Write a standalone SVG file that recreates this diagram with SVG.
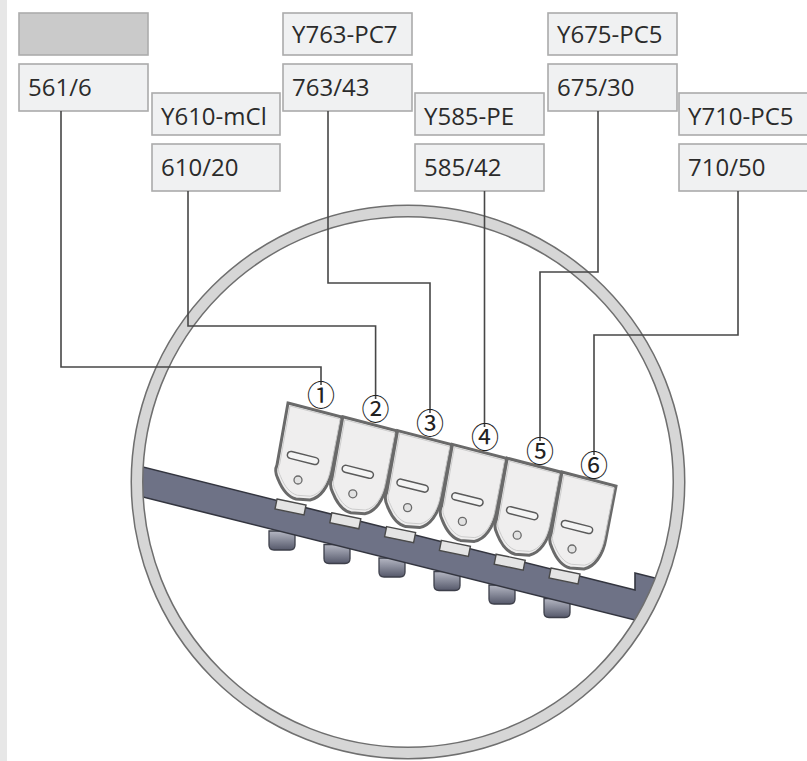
<svg xmlns="http://www.w3.org/2000/svg" width="807" height="761" viewBox="0 0 807 761">
<style>
.box{fill:#f0f1f2;stroke:#ababab;stroke-width:1.6}
.gbox{fill:#cacaca;stroke:#acacac;stroke-width:1.6}
.lbl{font-family:"Open Sans","Noto Sans","DejaVu Sans",sans-serif;font-size:24px;fill:#2b2b2b}
.con{fill:none;stroke:#474747;stroke-width:1.6}
.num{font-family:"Noto Sans CJK SC","DejaVu Sans",sans-serif;font-size:28px;fill:#222;text-anchor:middle}
.body{fill:#efeeee;stroke:#6a6a6a;stroke-width:3}
.bodyin{fill:none;stroke:#c9c9c9;stroke-width:1}
.slot{fill:#f4f4f4;stroke:#5a5a5a;stroke-width:1.5}
.hole{fill:#e2e2e2;stroke:#6a6a6a;stroke-width:1.3}
.tab{fill:#e4e4e4;stroke:#4a4a4a;stroke-width:1.4}
.knob{fill:url(#kg);stroke:#3d3f4a;stroke-width:1.3}
</style>
<defs>
<linearGradient id="kg" x1="0" y1="0" x2="0" y2="1">
<stop offset="0" stop-color="#b5b7c3"/>
<stop offset="0.45" stop-color="#8a8d9c"/>
<stop offset="1" stop-color="#55586a"/>
</linearGradient>
<clipPath id="inner"><circle cx="408" cy="482" r="266"/></clipPath>
<path id="mshape" d="M0,0 L54,14 L44,66 C41,84 32,95 22,97 L8,96 C0,94 -6,86 -10,76 C-13,70 -13,66 -11,62 Z"/>
<g id="tabshape"><path class="tab" d="M-11,96 L18,102 L16,112 L-13,106 Z"/></g>
<g id="module">
<use href="#mshape" class="body"/>
<use href="#mshape" class="bodyin" transform="translate(2,3) scale(0.93)"/>
<rect class="slot" x="-16" y="-3.5" width="32" height="7" rx="3.5" transform="translate(15,55) rotate(14)"/>
<circle class="hole" cx="10" cy="77" r="4"/>
</g>
<g id="knobshape"><path class="knob" d="M-13,-10 L13,-10 L13,4 Q13,9 8,9 L-8,9 Q-13,9 -13,4 Z"/></g>
</defs>
<rect x="0" y="0" width="807" height="761" fill="#ffffff"/>
<rect x="0" y="0" width="7" height="761" fill="#e7e7e7"/>

<!-- label boxes -->
<g id="box-blank"><rect class="gbox" x="19" y="13" width="129" height="42"/></g>
<g id="box-561"><rect class="box" x="19" y="64" width="129" height="47"/><text class="lbl" x="28" y="96">561/6</text></g>
<g id="box-Y610"><rect class="box" x="152" y="93" width="128" height="42"/><text class="lbl" x="161" y="125">Y610-mCl</text></g>
<g id="box-610"><rect class="box" x="152" y="144" width="128" height="47"/><text class="lbl" x="161" y="176">610/20</text></g>
<g id="box-Y763"><rect class="box" x="283" y="13" width="129" height="42"/><text class="lbl" x="292" y="43">Y763-PC7</text></g>
<g id="box-763"><rect class="box" x="283" y="64" width="129" height="47"/><text class="lbl" x="292" y="96">763/43</text></g>
<g id="box-Y585"><rect class="box" x="415" y="93" width="129" height="42"/><text class="lbl" x="424" y="125">Y585-PE</text></g>
<g id="box-585"><rect class="box" x="415" y="144" width="129" height="47"/><text class="lbl" x="424" y="176">585/42</text></g>
<g id="box-Y675"><rect class="box" x="548" y="13" width="129" height="42"/><text class="lbl" x="557" y="43">Y675-PC5</text></g>
<g id="box-675"><rect class="box" x="548" y="64" width="129" height="47"/><text class="lbl" x="557" y="96">675/30</text></g>
<g id="box-Y710"><rect class="box" x="679" y="93" width="130" height="42"/><text class="lbl" x="688" y="125">Y710-PC5</text></g>
<g id="box-710"><rect class="box" x="679" y="144" width="130" height="47"/><text class="lbl" x="688" y="176">710/50</text></g>

<!-- knobs under bar -->
<g id="knobs">
<use href="#knobshape" x="282" y="541"/>
<use href="#knobshape" x="337" y="554.5"/>
<use href="#knobshape" x="392" y="568"/>
<use href="#knobshape" x="447" y="581.5"/>
<use href="#knobshape" x="502" y="595"/>
<use href="#knobshape" x="557" y="608.5"/>
</g>

<!-- bar -->
<g id="bar" clip-path="url(#inner)">
<path d="M100,456.25 L635,590 L635,573 L720,594.25 L720,641.25 L100,486.25 Z" fill="#6e7286" stroke="#33353f" stroke-width="1.6"/>
</g>

<!-- tabs -->
<g id="tabs">
<use href="#tabshape" transform="translate(288,403)"/>
<use href="#tabshape" transform="translate(342.8,416.8)"/>
<use href="#tabshape" transform="translate(397.6,430.6)"/>
<use href="#tabshape" transform="translate(452.4,444.4)"/>
<use href="#tabshape" transform="translate(507.2,458.2)"/>
<use href="#tabshape" transform="translate(562,472)"/>
</g>

<!-- modules -->
<g id="module-1"><use href="#module" transform="translate(288,403)"/></g>
<g id="module-2"><use href="#module" transform="translate(342.8,416.8)"/></g>
<g id="module-3"><use href="#module" transform="translate(397.6,430.6)"/></g>
<g id="module-4"><use href="#module" transform="translate(452.4,444.4)"/></g>
<g id="module-5"><use href="#module" transform="translate(507.2,458.2)"/></g>
<g id="module-6"><use href="#module" transform="translate(562,472)"/></g>

<!-- ring -->
<g id="ring">
<circle cx="408" cy="482" r="271" fill="none" stroke="#6f6f6f" stroke-width="13"/>
<circle cx="408" cy="482" r="271" fill="none" stroke="#d6d6d6" stroke-width="10"/>
</g>

<!-- connectors -->
<g id="connectors">
<path class="con" d="M61,111 V367 H321 V385"/>
<path class="con" d="M188,191 V326 H375.6 V399"/>
<path class="con" d="M328,111 V283 H430 V413"/>
<path class="con" d="M484.5,191 V427"/>
<path class="con" d="M598,111 V272 H540 V441"/>
<path class="con" d="M738,191 V335 H594 V455"/>
</g>

<!-- circled numbers -->
<g id="numbers">
<text class="num" x="321" y="405.5">①</text>
<text class="num" x="375.6" y="419.5">②</text>
<text class="num" x="430" y="433.5">③</text>
<text class="num" x="485" y="447.5">④</text>
<text class="num" x="540" y="461.5">⑤</text>
<text class="num" x="594" y="475.5">⑥</text>
</g>
</svg>
